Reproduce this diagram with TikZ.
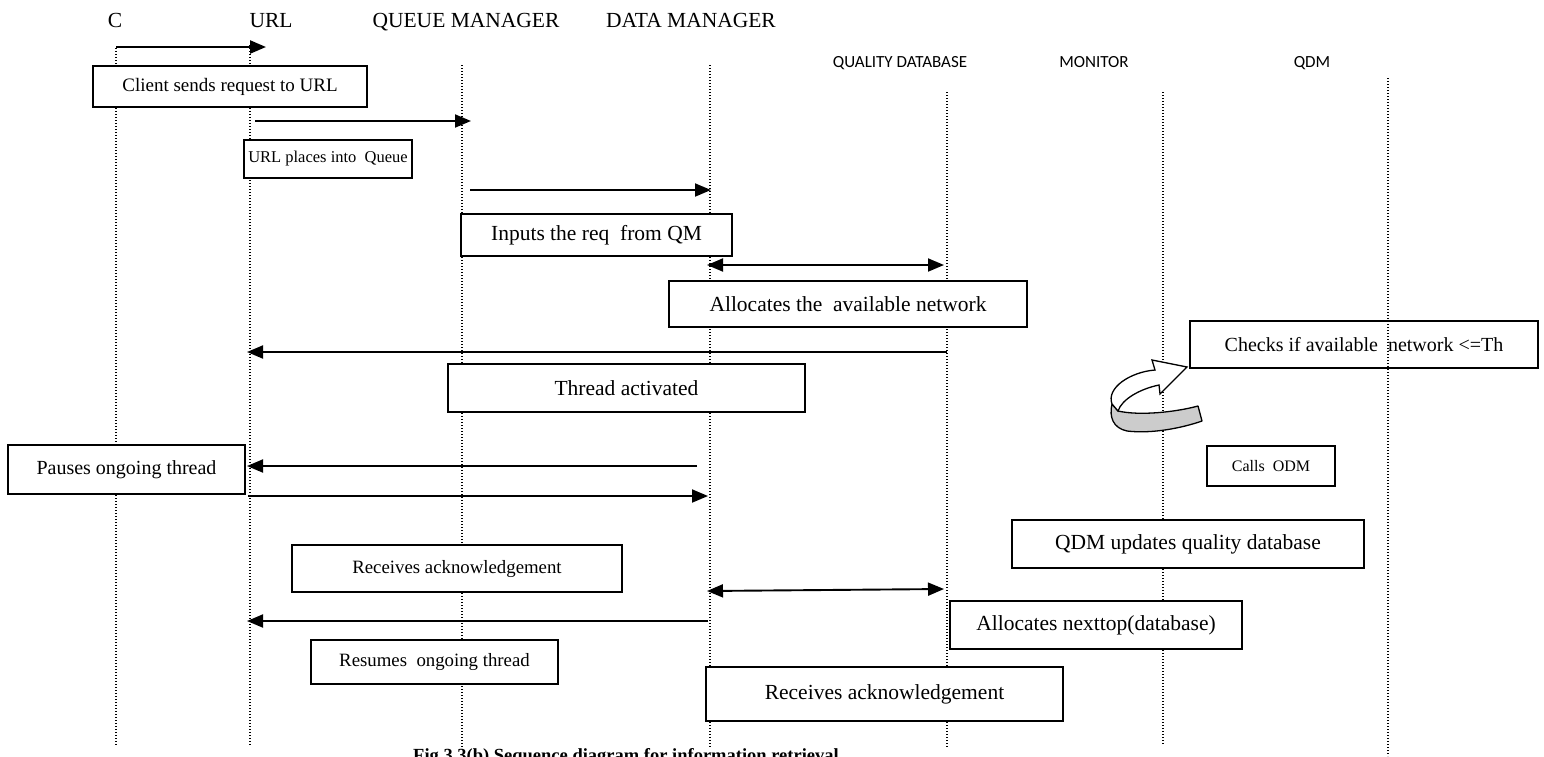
\documentclass[tikz,border=0pt]{standalone}
\usepackage{fontspec}
\setmainfont{Liberation Serif}
\newfontfamily\sansf{Carlito}
\usetikzlibrary{arrows.meta}
\newcommand\fs[1]{\fontsize{#1}{#1}\selectfont}
\begin{document}
\begin{tikzpicture}[x=1pt,y=-1pt,
 msgbox/.style={draw,line width=1.3pt,fill=white,inner sep=0pt,font=\fs{21.5}},
 life/.style={line width=1.3pt, dash pattern=on 1.4pt off 1.6pt},
 msg/.style={line width=1.9pt,-{Triangle[length=16pt,width=13pt]}},
 dmsg/.style={line width=1.9pt,{Triangle[length=16pt,width=13pt]}-{Triangle[length=16pt,width=13pt]}},
 hdr/.style={font=\fs{21.5}, inner sep=0pt, anchor=base},
 shdr/.style={font=\sansf\fs{17}, inner sep=0pt, anchor=base}]
\useasboundingbox (0,0) rectangle (1544,756);
% headers
\node[hdr] (hC) at (115,27) {C};
\node[hdr] (hURL) at (271,27) {URL};
\node[hdr] (hQM) at (466,27) {QUEUE MANAGER};
\node[hdr] (hDM) at (691,27) {DATA MANAGER};
\node[shdr] (hQDB) at (900,67) {QUALITY DATABASE};
\node[shdr] (hMON) at (1094,67) {MONITOR};
\node[shdr] (hQDM) at (1312,67) {QDM};
% lifelines
\coordinate (Ct) at (116,48);  \coordinate (Cb) at (116,745);
\coordinate (Ut) at (250,45);  \coordinate (Ub) at (250,745);
\coordinate (Qt) at (462,65);  \coordinate (Qb) at (462,748);
\coordinate (Dt) at (710,65);  \coordinate (Db) at (710,748);
\coordinate (Bt) at (947,92);  \coordinate (Bb) at (947,748);
\coordinate (Mt) at (1163,92); \coordinate (Mb) at (1163,745);
\coordinate (Xt) at (1388,78); \coordinate (Xb) at (1388,756);
\foreach \a/\b in {Ct/Cb,Ut/Ub,Qt/Qb,Dt/Db,Bt/Bb,Mt/Mb,Xt/Xb} \draw[life] (\a) -- (\b);
% boxes
\node[msgbox, font=\fs{19}, minimum width=274pt, minimum height=41pt] (b1) at (230,86.5) {Client sends request to URL};
\node[msgbox, font=\fs{16.5}, minimum width=168pt, minimum height=38pt] (b2) at (328,159) {URL places into\ \ Queue};
\node[msgbox, minimum width=271pt, minimum height=42pt] (b3) at (596.5,235) {Inputs the req\ \ from QM};
\node[msgbox, minimum width=358pt, minimum height=46pt] (b4) at (848,304) {Allocates the\ \ available network};
\node[msgbox, font=\fs{20}, fill=none, minimum width=348pt, minimum height=47pt] (b5) at (1364,344.5) {Checks if available\ \ network <=Th};
\node[msgbox, minimum width=357pt, minimum height=48pt] (b6) at (626.5,388) {Thread activated};
\node[msgbox, font=\fs{16}, minimum width=128pt, minimum height=40pt] (b7) at (1271,466) {Calls\ \ ODM};
\node[msgbox, font=\fs{20}, minimum width=237pt, minimum height=49pt] (b8) at (126.5,469.5) {Pauses ongoing thread};
\node[msgbox, minimum width=352pt, minimum height=48pt] (b9) at (1188,544) {QDM updates quality database};
\node[msgbox, font=\fs{18.8}, minimum width=330pt, minimum height=47pt] (b10) at (457,568.5) {Receives acknowledgement};
\node[msgbox, minimum width=292pt, minimum height=48pt] (b11) at (1096,625) {Allocates nexttop(database)};
\node[msgbox, font=\fs{18.8}, minimum width=247pt, minimum height=44pt] (b12) at (434.5,662) {Resumes\ \ ongoing thread};
\node[msgbox, minimum width=357pt, minimum height=54pt] (b13) at (884.5,694) {Receives acknowledgement};
% messages
\coordinate (a1s) at (116,47);  \coordinate (a1e) at (266,47);
\coordinate (a2s) at (255,121); \coordinate (a2e) at (471,121);
\coordinate (a3s) at (470,190); \coordinate (a3e) at (711,190);
\coordinate (a4s) at (707,265); \coordinate (a4e) at (944,265);
\coordinate (a5s) at (947,352); \coordinate (a5e) at (247,352);
\coordinate (a6s) at (697,466); \coordinate (a6e) at (247,466);
\coordinate (a7s) at (248,496); \coordinate (a7e) at (708,496);
\coordinate (a8s) at (707,591); \coordinate (a8e) at (944,589);
\coordinate (a9s) at (708,621); \coordinate (a9e) at (247,621);
\draw[msg, line width=2.4pt] (a1s) -- (a1e);
\draw[msg] (a2s) -- (a2e);
\draw[msg] (a3s) -- (a3e);
\draw[dmsg] (a4s) -- (a4e);
\draw[msg] (a5s) -- (a5e);
\draw[msg] (a6s) -- (a6e);
\draw[msg] (a7s) -- (a7e);
\draw[dmsg] (a8s) -- (a8e);
\draw[msg] (a9s) -- (a9e);
% curved self arrow
\draw[line width=1.3pt, fill=black!20, line join=round]
  (1112,404) .. controls (1109,417) and (1113,428) .. (1127,431)
  .. controls (1152,434) and (1182,428) .. (1202,421)
  -- (1198,406)
  .. controls (1176,412) and (1140,416) .. (1118,411)
  -- cycle;
\draw[line width=1.3pt, fill=white, line join=miter]
  (1112,404) .. controls (1106,388) and (1130,372) .. (1155,370)
  -- (1152,360) -- (1187,367) -- (1160,394) -- (1159,385)
  .. controls (1140,389) and (1122,399) .. (1118,411)
  -- cycle;
% caption
\node[font=\bfseries\fs{18.5}, anchor=north west, inner sep=0pt] (cap) at (413,748) {Fig 3.3(b) Sequence diagram for information retrieval};
\end{tikzpicture}
\end{document}
